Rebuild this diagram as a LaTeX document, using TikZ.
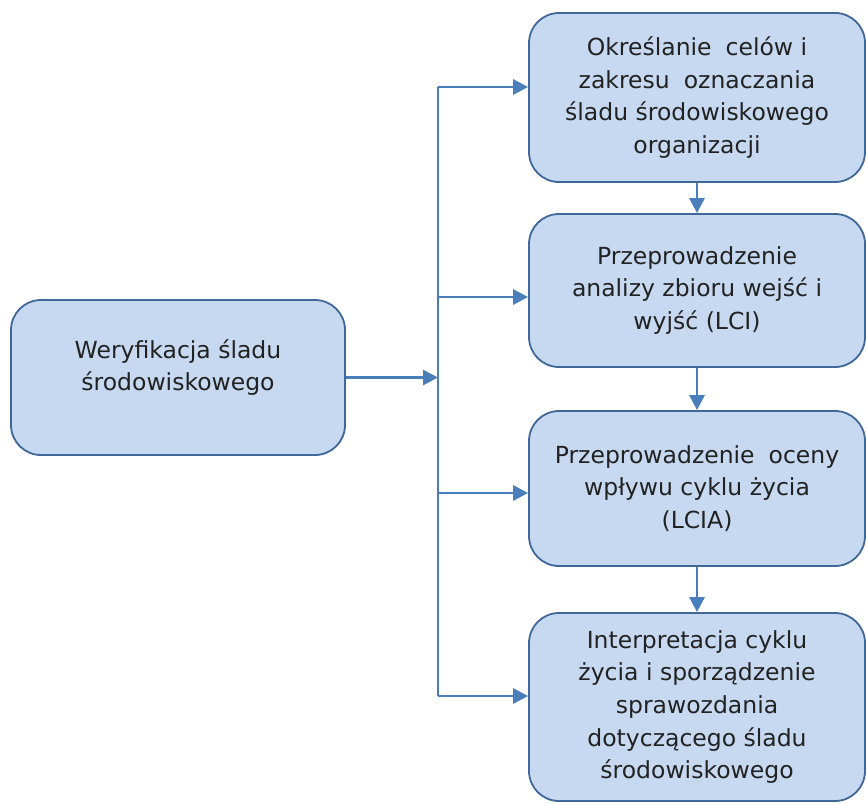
\documentclass[tikz,border=0pt]{standalone}
\usepackage{fontspec}
\setmainfont{DejaVu Sans}
\usetikzlibrary{arrows.meta,calc}
\definecolor{boxfill}{HTML}{C6D9F0}
\definecolor{boxline}{HTML}{3F6797}
\definecolor{arr}{HTML}{4A7EBB}
\definecolor{txtc}{HTML}{222222}
\tikzset{
  box/.style={draw=boxline, fill=boxfill, line width=1.8pt, rounded corners=30pt, inner sep=0pt},
  txt/.style={align=center, text=txtc, font=\fontsize{23.5}{32.6}\selectfont, inner sep=0pt},
  conn/.style={draw=arr, line width=2.8pt, -{Triangle[length=15pt,width=15pt]}},
  bus/.style={draw=arr, line width=2.2pt}
}
\begin{document}
\begin{tikzpicture}[x=1pt,y=-1pt]
\useasboundingbox (0,0) rectangle (866,803);
% left box
\node[box, minimum width=334pt, minimum height=155pt] (l) at (178,377.5) {};
\node[txt] (lt) at ([yshift=10pt]l.center) {Weryfikacja śladu\\środowiskowego};
% right boxes
\node[box, txt, minimum width=336pt, minimum height=169pt] (o1) at (697,97.5)
  {Określanie\; celów i\\zakresu\; oznaczania\\śladu środowiskowego\\organizacji};
\node[box, txt, minimum width=336pt, minimum height=153pt] (o2) at (697,290.5)
  {Przeprowadzenie\\analizy zbioru wejść i\\wyjść (LCI)};
\node[box, txt, minimum width=336pt, minimum height=155pt] (o3) at (697,488.5)
  {Przeprowadzenie\; oceny\\wpływu cyklu życia\\(LCIA)};
\node[box, txt, minimum width=336pt, minimum height=188pt] (o4) at (697,707)
  {Interpretacja cyklu\\życia i sporządzenie\\sprawozdania\\dotyczącego śladu\\środowiskowego};
% bus
\coordinate (b1) at (438,87);
\coordinate (b2) at (438,297);
\coordinate (b3) at (438,493);
\coordinate (b4) at (438,696);
\draw[bus] (b1) -- (b4);
\draw[conn] (l.east) -- (l.east -| b1);
\draw[conn] (b1) -- (b1 -| o1.west);
\draw[conn] (b2) -- (b2 -| o2.west);
\draw[conn] (b3) -- (b3 -| o3.west);
\draw[conn] (b4) -- (b4 -| o4.west);
% vertical arrows
\draw[conn] (o1.south) -- (o2.north);
\draw[conn] (o2.south) -- (o3.north);
\draw[conn] (o3.south) -- (o4.north);
\end{tikzpicture}
\end{document}
